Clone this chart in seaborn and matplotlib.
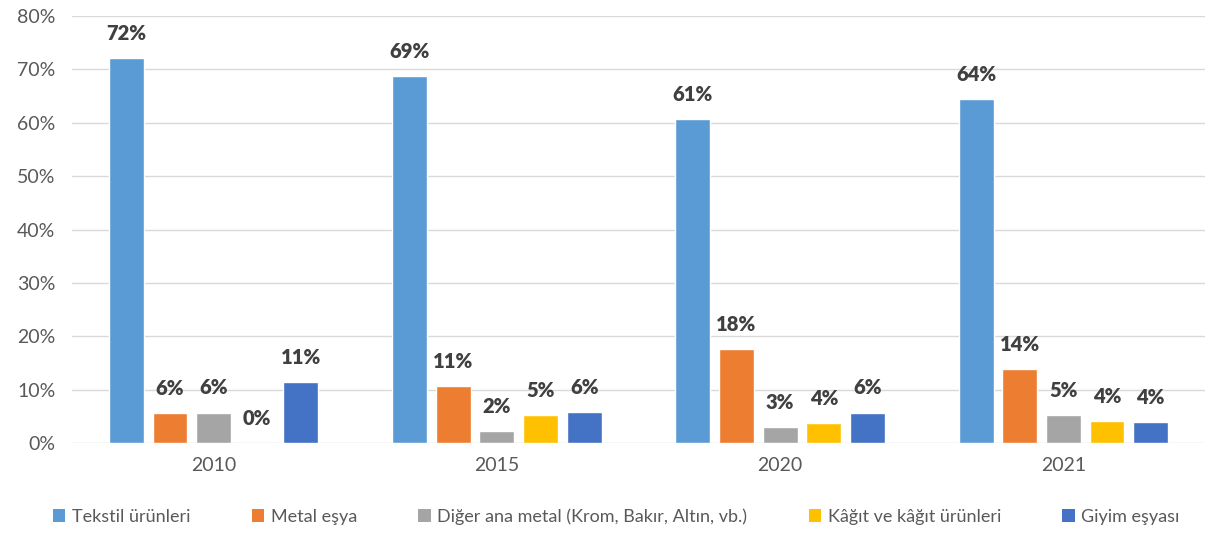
import matplotlib
matplotlib.use("Agg")
import matplotlib.pyplot as plt
import seaborn as sns
import pandas as pd
from matplotlib.ticker import FuncFormatter

years = ["2010", "2015", "2020", "2021"]
series = ["Tekstil ürünleri", "Metal eşya", "Diğer ana metal (Krom, Bakır, Altın, vb.)",
          "Kâğıt ve kâğıt ürünleri", "Giyim eşyası"]
tekstil = [72.1, 68.7, 60.7, 64.4]
metal = [5.6, 10.7, 17.6, 13.9]
diger = [5.7, 2.2, 3.0, 5.2]
kagit = [0.0, 5.2, 3.7, 4.1]
giyim = [11.4, 5.8, 5.7, 3.9]
colors = ["#5B9BD5", "#ED7D31", "#A5A5A5", "#FFC000", "#4472C4"]

rows = []
for name, vals in zip(series, [tekstil, metal, diger, kagit, giyim]):
    for y, v in zip(years, vals):
        rows.append({"Yıl": y, "Seri": name, "Değer": v})
df = pd.DataFrame(rows)

sns.set_style("white")
plt.rcParams["font.family"] = ["Lato", "DejaVu Sans"]

fig = plt.figure(figsize=(12.13, 5.34), dpi=100)
ax = fig.add_axes([0.0594, 0.1704, 0.934, 0.7996])
sns.barplot(data=df, x="Yıl", y="Değer", hue="Seri", hue_order=series, order=years,
            palette=colors, width=0.77, gap=0.2, ax=ax, legend=False, saturation=1)

for cont in ax.containers:
    ax.bar_label(cont, fmt="%.0f%%", padding=11, fontsize=14.5, fontweight="heavy", color="#404040")

ax.set_ylim(0, 80)
ax.set_xlim(-0.5, 3.5)
ax.set_yticks(range(0, 81, 10))
ax.yaxis.set_major_formatter(FuncFormatter(lambda v, p: f"{v:.0f}%"))
ax.grid(axis="y", color="#D9D9D9", linewidth=1)
ax.set_axisbelow(True)
for s in ax.spines.values():
    s.set_visible(False)
ax.tick_params(axis="both", length=0, labelsize=14, labelcolor="#595959")
ax.tick_params(axis="x", pad=10)
ax.tick_params(axis="y", pad=12)
ax.set_xlabel("")
ax.set_ylabel("")

from matplotlib.patches import Patch
handles = [Patch(facecolor=c, edgecolor="none") for c in colors]
fig.legend(handles, series, loc="center", bbox_to_anchor=(0.508, 0.033), ncol=5,
           frameon=False, fontsize=13, handlelength=0.7, handleheight=0.7,
           handletextpad=0.35, columnspacing=3.4, labelcolor="#595959")

fig.savefig("out.png", dpi=100)
